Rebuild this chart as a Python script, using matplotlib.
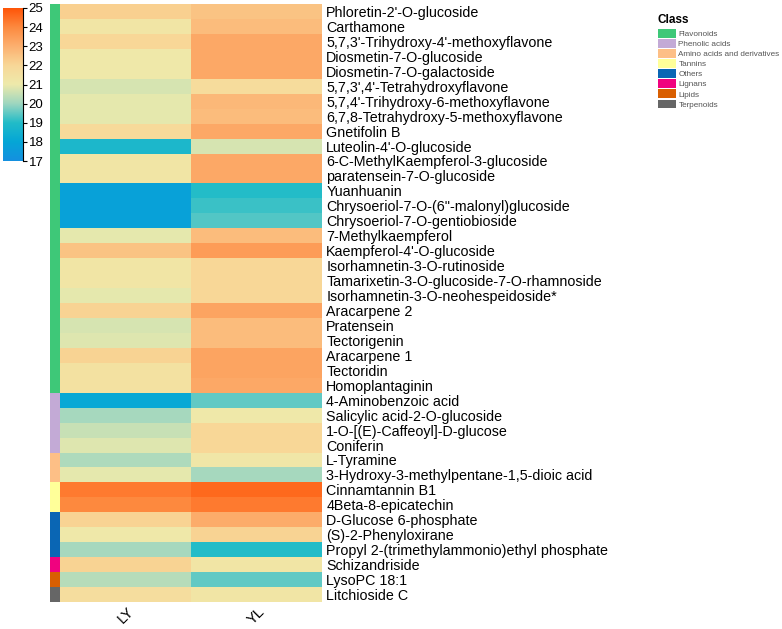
import numpy as np
import matplotlib
matplotlib.use("Agg")
import matplotlib.pyplot as plt
from matplotlib.colors import LinearSegmentedColormap, ListedColormap
from matplotlib.patches import Patch

plt.rcParams['font.family'] = ['Liberation Sans', 'DejaVu Sans']

compounds = [
    "Phloretin-2'-O-glucoside", "Carthamone", "5,7,3'-Trihydroxy-4'-methoxyflavone",
    "Diosmetin-7-O-glucoside", "Diosmetin-7-O-galactoside", "5,7,3',4'-Tetrahydroxyflavone",
    "5,7,4'-Trihydroxy-6-methoxyflavone", "6,7,8-Tetrahydroxy-5-methoxyflavone", "Gnetifolin B",
    "Luteolin-4'-O-glucoside", "6-C-MethylKaempferol-3-glucoside", "paratensein-7-O-glucoside",
    "Yuanhuanin", "Chrysoeriol-7-O-(6''-malonyl)glucoside", "Chrysoeriol-7-O-gentiobioside",
    "7-Methylkaempferol", "Kaempferol-4'-O-glucoside", "Isorhamnetin-3-O-rutinoside",
    "Tamarixetin-3-O-glucoside-7-O-rhamnoside", "Isorhamnetin-3-O-neohespeidoside*",
    "Aracarpene 2", "Pratensein", "Tectorigenin", "Aracarpene 1", "Tectoridin", "Homoplantaginin",
    "4-Aminobenzoic acid", "Salicylic acid-2-O-glucoside", "1-O-[(E)-Caffeoyl]-D-glucose", "Coniferin",
    "L-Tyramine", "3-Hydroxy-3-methylpentane-1,5-dioic acid",
    "Cinnamtannin B1", "4Beta-8-epicatechin",
    "D-Glucose 6-phosphate", "(S)-2-Phenyloxirane", "Propyl 2-(trimethylammonio)ethyl phosphate",
    "Schizandriside", "LysoPC 18:1", "Litchioside C",
]
classes = (["Flavonoids"] * 26 + ["Phenolic acids"] * 4 + ["Amino acids and derivatives"] * 2
           + ["Tannins"] * 2 + ["Others"] * 3 + ["Lignans"] + ["Lipids"] + ["Terpenoids"])
samples = ["LY", "YL"]

LY = [22.2, 21.3, 22.0, 21.1, 21.1, 20.7, 20.9, 20.9, 21.9, 18.8, 21.3, 21.3,
      17.8, 17.8, 17.8, 20.9, 22.5, 21.3, 21.3, 20.9, 22.1, 20.7, 20.8, 22.1, 21.5, 21.5,
      18.1, 20.1, 20.5, 20.8, 20.2, 20.9, 24.3, 24.0, 22.1, 21.1, 20.1, 22.1, 20.3, 21.7]
YL = [22.5, 22.7, 23.2, 23.2, 23.2, 21.8, 22.8, 22.7, 23.2, 20.7, 23.2, 23.2,
      19.0, 19.2, 19.4, 22.7, 23.5, 22.0, 22.0, 22.0, 23.3, 22.7, 22.7, 23.3, 23.3, 23.2,
      19.5, 21.1, 22.0, 22.0, 21.2, 20.1, 24.6, 24.3, 23.1, 22.1, 19.0, 21.3, 19.5, 21.3]

class_names = ["Flavonoids", "Phenolic acids", "Amino acids and derivatives", "Tannins",
               "Others", "Lignans", "Lipids", "Terpenoids"]
class_colors = ["#3ec878", "#c3aad6", "#fdbf86", "#ffff99", "#0a66b4", "#f0027f", "#d95f02", "#666666"]

cb_ticks = [17, 18, 19, 20, 21, 22, 23, 24, 25]

cmap = LinearSegmentedColormap.from_list("hm", [
    (0.0, "#1590e0"), (1/8, "#05a6d6"), (2/8, "#22bcc8"), (3/8, "#9ed6c0"),
    (4/8, "#eeeaab"), (5/8, "#f8d898"), (6/8, "#fcb070"), (7/8, "#fd8a40"), (1.0, "#ff5508")])

W, H = 782, 629
fig = plt.figure(figsize=(W / 100, H / 100), dpi=100)

def ax_px(x0, y0, x1, y1):
    return fig.add_axes([x0 / W, 1 - y1 / H, (x1 - x0) / W, (y1 - y0) / H])

n = len(compounds)
data = np.array([LY, YL]).T

# heatmap
ax = ax_px(60, 4, 322, 602)
ax.pcolormesh(np.arange(3), np.arange(n + 1), data, cmap=cmap, vmin=17, vmax=25)
ax.set_xlim(0, 2)
ax.set_ylim(n, 0)
for s in ax.spines.values():
    s.set_visible(False)
ax.set_xticks([0.5, 1.5])
ax.set_xticklabels(samples, rotation=45, fontsize=10.5, ha='center', va='top')
ax.tick_params(axis='x', length=0, pad=2)
ax.yaxis.tick_right()
ax.set_yticks(np.arange(n) + 0.5)
ax.set_yticklabels(compounds, fontsize=10.3)
ax.tick_params(axis='y', length=0, pad=3)

# annotation bar
ax2 = ax_px(50, 4, 60, 602)
idx = np.array([class_names.index(c) for c in classes]).reshape(-1, 1)
ax2.pcolormesh(np.arange(2), np.arange(n + 1), idx, cmap=ListedColormap(class_colors),
               vmin=-0.5, vmax=len(class_names) - 0.5)
ax2.set_xlim(0, 1)
ax2.set_ylim(n, 0)
ax2.axis('off')

# colorbar
cax = ax_px(3, 8, 23, 161)
grad = np.linspace(17, 25, 256).reshape(-1, 1)
cax.imshow(grad, aspect='auto', origin='lower', extent=[0, 1, 17, 25], cmap=cmap, vmin=17, vmax=25)
for k in ['left', 'top', 'bottom']:
    cax.spines[k].set_visible(False)
cax.spines['right'].set_linewidth(0.8)
cax.set_xticks([])
cax.yaxis.tick_right()
cax.set_yticks(cb_ticks)
cax.set_yticklabels([str(t) for t in cb_ticks], fontsize=9.5)
cax.tick_params(axis='y', length=3, width=0.8, pad=1)
cax.set_ylim(17, 25)

# legend
fig.text(658 / W, 1 - 14 / H, "Class", fontsize=8.5, fontweight='bold', ha='left', va='top')
handles = [Patch(facecolor=c, edgecolor='none', label=l) for c, l in zip(class_colors, class_names)]
leg = fig.legend(handles=handles, loc='upper left', bbox_to_anchor=(658 / W, 1 - 29 / H),
                 frameon=False, fontsize=5.9, labelcolor='#555555',
                 handlelength=2.2, handleheight=1.25, labelspacing=0.12, handletextpad=0.3,
                 borderaxespad=0, borderpad=0)

fig.savefig("out.png", dpi=100)
